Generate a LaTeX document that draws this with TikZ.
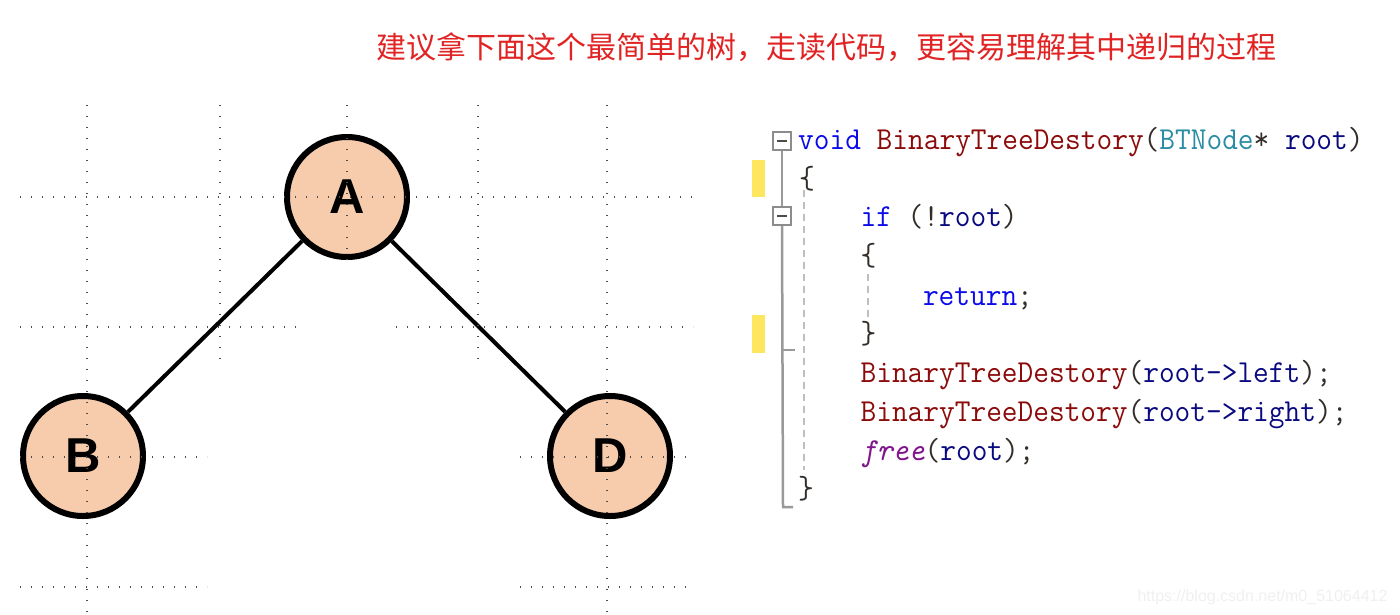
\documentclass[tikz,border=0pt]{standalone}
\usepackage{fontspec}
\newfontfamily\cjk{Noto Sans CJK SC}
\newfontfamily\nodefont{Liberation Sans}
\definecolor{titlered}{RGB}{225,35,35}
\definecolor{peach}{RGB}{247,204,172}
\definecolor{kwblue}{RGB}{10,10,235}
\definecolor{fnred}{RGB}{140,10,10}
\definecolor{tyteal}{RGB}{43,140,165}
\definecolor{varnavy}{RGB}{10,10,128}
\definecolor{fnpurple}{RGB}{128,20,140}
\definecolor{punc}{RGB}{50,45,40}
\definecolor{markyellow}{RGB}{255,230,95}
\newcommand\codefnt{\ttfamily\fontsize{32}{32}\selectfont}
\newcommand\cl[1]{\scalebox{0.953}[1]{\color{punc}#1}}
\newcommand\kw[1]{\textcolor{kwblue}{#1}}
\newcommand\fnn[1]{\textcolor{fnred}{#1}}
\newcommand\ty[1]{\textcolor{tyteal}{#1}}
\newcommand\vr[1]{\textcolor{varnavy}{#1}}
\newcommand\pu[1]{\textcolor{fnpurple}{\itshape #1}}
\begin{document}
\begin{tikzpicture}[x=1pt,y=-1pt,
  treenode/.style={circle, draw=black, line width=6pt, fill=peach, minimum size=120pt, inner sep=0pt,
    font=\nodefont\bfseries\fontsize{49}{49}\selectfont},
  edge/.style={draw=black, line width=4pt},
  griddot/.style={draw=black!70, line width=1.2pt, dash pattern=on 1.2pt off 9.8pt},
  codeline/.style={anchor=base west, inner sep=0pt, font=\codefnt},
  foldbox/.style={draw=black!45, line width=1.5pt, fill=white, minimum size=18pt, inner sep=0pt},
  guide/.style={draw=black!40, line width=2.5pt},
  indentguide/.style={draw=black!25, line width=2pt, dash pattern=on 7pt off 5pt},
  yellowbar/.style={fill=markyellow}
]
\useasboundingbox (0,0) rectangle (1400,614);
\fill[white] (0,0) rectangle (1400,614);

% title
\node[font=\cjk\fontsize{30}{30}\selectfont, text=titlered] (title) at (826,47)
  {建议拿下面这个最简单的树，走读代码，更容易理解其中递归的过程};

% tree
\node[treenode] (A) at (347,197) {A};
\node[treenode] (B) at (83,456) {B};
\node[treenode] (D) at (610,456) {D};
\draw[edge] (A) -- (B);
\draw[edge] (A) -- (D);

% dotted grid
\draw[griddot] (87,105) -- (87,614);
\draw[griddot] (220,105) -- (220,367);
\draw[griddot] (347,105) -- (347,262);
\draw[griddot] (478,105) -- (478,367);
\draw[griddot] (607,105) -- (607,614);
\draw[griddot] (20,197) -- (693,197);
\draw[griddot] (20,327) -- (300,327);
\draw[griddot] (396,327) -- (693,327);
\draw[griddot] (20,457) -- (207,457);
\draw[griddot] (520,457) -- (693,457);
\draw[griddot] (20,587) -- (207,587);
\draw[griddot] (520,587) -- (693,587);

% editor decorations
\fill[yellowbar] (752,160) rectangle (765,197);
\fill[yellowbar] (752,315) rectangle (765,353);
\coordinate (gtick) at (783,350);
\coordinate (gtickend) at (795,350);
\coordinate (gbot) at (783,507);
\coordinate (gbotend) at (793,507);
\node[foldbox] (f1) at (782,141) {};
\node[foldbox] (f2) at (782,216) {};
\draw[guide] (f1.south) -- (f2.north);
\draw[guide] (f2.south) -- (gbot) -- (gbotend);
\draw[guide] (gtick) -- (gtickend);
\draw[black!70, line width=2pt] ([xshift=-5pt]f1.center) -- ([xshift=5pt]f1.center);
\draw[black!70, line width=2pt] ([xshift=-5pt]f2.center) -- ([xshift=5pt]f2.center);
\coordinate (ig1a) at (804,190);
\coordinate (ig1b) at (804,470);
\coordinate (ig2a) at (868,274);
\coordinate (ig2b) at (868,318);
\draw[indentguide] (ig1a) -- (ig1b);
\draw[indentguide] (ig2a) -- (ig2b);

% code
\node[codeline] (c1) at (798,149) {\cl{\kw{void} \fnn{BinaryTreeDestory}(\ty{BTNode}* \vr{root})}};
\node[codeline] (c2) at (799,188) {\cl{\{}};
\node[codeline] (c3) at (860.4,226) {\cl{\kw{if} (!\vr{root})}};
\node[codeline] (c4) at (860.4,265) {\cl{\{}};
\node[codeline] (c5) at (922.8,305) {\cl{\kw{return};}};
\node[codeline] (c6) at (860.4,343) {\cl{\}}};
\node[codeline] (c7) at (860.4,382) {\cl{\fnn{BinaryTreeDestory}(\vr{root->left});}};
\node[codeline] (c8) at (860.4,421) {\cl{\fnn{BinaryTreeDestory}(\vr{root->right});}};
\node[codeline] (c9) at (860.4,460) {\cl{\pu{free}(\vr{root});}};
\node[codeline] (c10) at (798,498) {\cl{\}}};

% watermark
\node[font=\nodefont\fontsize{16}{16}\selectfont, text=black!6, anchor=east] (wm) at (1391,597)
  {https://blog.csdn.net/m0\_51064412};
\end{tikzpicture}
\end{document}
